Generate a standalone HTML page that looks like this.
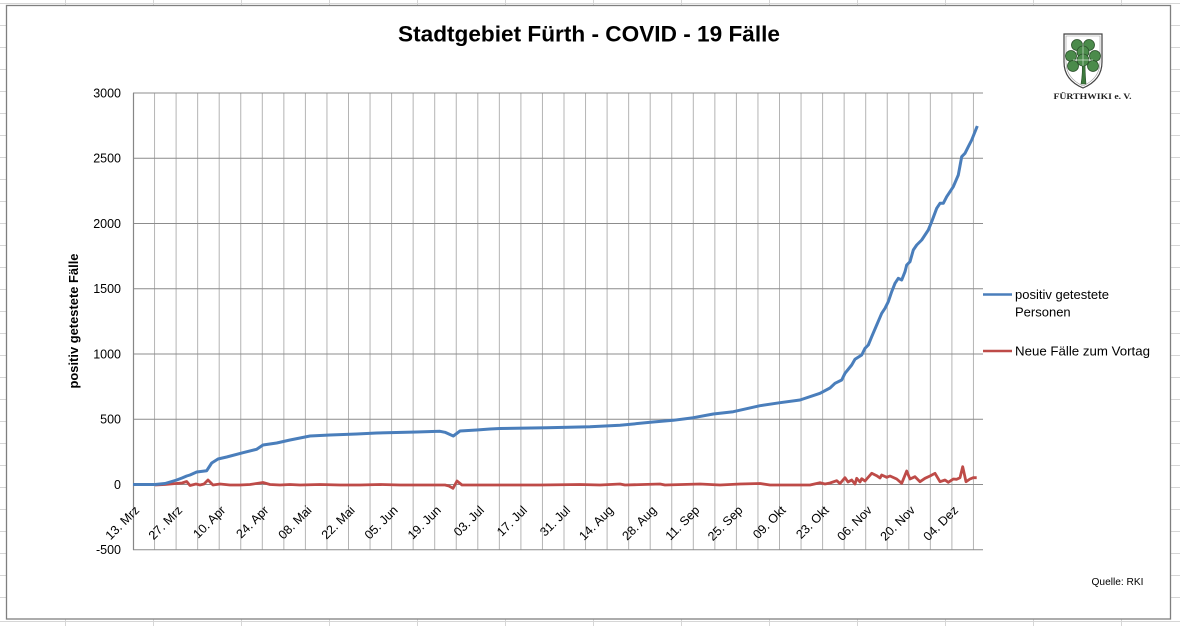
<!DOCTYPE html>
<html><head><meta charset="utf-8"><style>
html,body{margin:0;padding:0;background:#fff;}
svg{display:block;}
text{font-family:"Liberation Sans",sans-serif;}
</style></head><body>
<svg width="1180" height="626" viewBox="0 0 1180 626" xmlns="http://www.w3.org/2000/svg">
<!-- sheet grid -->
<g stroke="#d6d6d6" stroke-width="1">
<line x1="0" y1="3.5" x2="1180" y2="3.5"/><line x1="0" y1="25.5" x2="1180" y2="25.5"/><line x1="0" y1="47.5" x2="1180" y2="47.5"/><line x1="0" y1="69.5" x2="1180" y2="69.5"/><line x1="0" y1="91.5" x2="1180" y2="91.5"/><line x1="0" y1="113.5" x2="1180" y2="113.5"/><line x1="0" y1="135.5" x2="1180" y2="135.5"/><line x1="0" y1="157.5" x2="1180" y2="157.5"/><line x1="0" y1="179.5" x2="1180" y2="179.5"/><line x1="0" y1="201.5" x2="1180" y2="201.5"/><line x1="0" y1="223.5" x2="1180" y2="223.5"/><line x1="0" y1="245.5" x2="1180" y2="245.5"/><line x1="0" y1="267.5" x2="1180" y2="267.5"/><line x1="0" y1="289.5" x2="1180" y2="289.5"/><line x1="0" y1="311.5" x2="1180" y2="311.5"/><line x1="0" y1="333.5" x2="1180" y2="333.5"/><line x1="0" y1="355.5" x2="1180" y2="355.5"/><line x1="0" y1="377.5" x2="1180" y2="377.5"/><line x1="0" y1="399.5" x2="1180" y2="399.5"/><line x1="0" y1="421.5" x2="1180" y2="421.5"/><line x1="0" y1="443.5" x2="1180" y2="443.5"/><line x1="0" y1="465.5" x2="1180" y2="465.5"/><line x1="0" y1="487.5" x2="1180" y2="487.5"/><line x1="0" y1="509.5" x2="1180" y2="509.5"/><line x1="0" y1="531.5" x2="1180" y2="531.5"/><line x1="0" y1="553.5" x2="1180" y2="553.5"/><line x1="0" y1="575.5" x2="1180" y2="575.5"/><line x1="0" y1="597.5" x2="1180" y2="597.5"/><line x1="0" y1="621.5" x2="1180" y2="621.5"/>
<line x1="65.5" y1="0" x2="65.5" y2="626"/><line x1="153.5" y1="0" x2="153.5" y2="626"/><line x1="241.5" y1="0" x2="241.5" y2="626"/><line x1="329.5" y1="0" x2="329.5" y2="626"/><line x1="417.5" y1="0" x2="417.5" y2="626"/><line x1="505.5" y1="0" x2="505.5" y2="626"/><line x1="593.5" y1="0" x2="593.5" y2="626"/><line x1="681.5" y1="0" x2="681.5" y2="626"/><line x1="769.5" y1="0" x2="769.5" y2="626"/><line x1="857.5" y1="0" x2="857.5" y2="626"/><line x1="945.5" y1="0" x2="945.5" y2="626"/><line x1="1033.5" y1="0" x2="1033.5" y2="626"/><line x1="1121.5" y1="0" x2="1121.5" y2="626"/>
</g>
<!-- chart area -->
<rect x="6.5" y="5.5" width="1164" height="613.5" fill="#fff" stroke="#7f7f7f" stroke-width="1.3"/>

<!-- title -->
<text x="589" y="41.5" font-size="22" font-weight="bold" text-anchor="middle" textLength="382" lengthAdjust="spacingAndGlyphs" fill="#000">Stadtgebiet Fürth - COVID - 19 Fälle</text>

<!-- logo -->
<g>
<path d="M1064,34 H1102 V62 Q1102,80 1083,88 Q1064,80 1064,62 Z" fill="#fff" stroke="#444" stroke-width="1.2"/>
<path d="M1066,36 H1100 V62 Q1100,78 1083,86 Q1066,78 1066,62 Z" fill="none" stroke="#999" stroke-width="0.6"/>
<path d="M1082,62 Q1083,72 1081,84 L1086,84 Q1085,72 1085,62 Z" fill="#3d7a3d" stroke="#2a4f2a" stroke-width="0.6"/>
<g fill="#4b8b4b" stroke="#2a4f2a" stroke-width="0.8">
<circle cx="1077" cy="45" r="5.5"/><circle cx="1089" cy="45" r="5.5"/><circle cx="1083" cy="52" r="6"/>
<circle cx="1071" cy="56" r="5.5"/><circle cx="1073" cy="66" r="5.5"/>
<circle cx="1095" cy="56" r="5.5"/><circle cx="1093" cy="66" r="5.5"/>
<circle cx="1083" cy="60" r="6"/>
</g>
<line x1="1083" y1="44" x2="1083" y2="66" stroke="#cde0cd" stroke-width="0.7"/>
<line x1="1073" y1="60" x2="1093" y2="60" stroke="#cde0cd" stroke-width="0.7"/>
<text x="1092.5" y="99" font-family="Liberation Serif,serif" font-size="8" font-weight="bold" text-anchor="middle" fill="#222" textLength="78" lengthAdjust="spacingAndGlyphs" style="font-family:'Liberation Serif',serif">FÜRTHWIKI e. V.</text>
</g>

<!-- plot gridlines vertical -->
<g stroke="#b4b4b4" stroke-width="1">
<line x1="154.55" y1="93" x2="154.55" y2="550"/><line x1="176.1" y1="93" x2="176.1" y2="550"/><line x1="197.65" y1="93" x2="197.65" y2="550"/><line x1="219.2" y1="93" x2="219.2" y2="550"/><line x1="240.75" y1="93" x2="240.75" y2="550"/><line x1="262.3" y1="93" x2="262.3" y2="550"/><line x1="283.85" y1="93" x2="283.85" y2="550"/><line x1="305.4" y1="93" x2="305.4" y2="550"/><line x1="326.95" y1="93" x2="326.95" y2="550"/><line x1="348.5" y1="93" x2="348.5" y2="550"/><line x1="370.05" y1="93" x2="370.05" y2="550"/><line x1="391.6" y1="93" x2="391.6" y2="550"/><line x1="413.15" y1="93" x2="413.15" y2="550"/><line x1="434.7" y1="93" x2="434.7" y2="550"/><line x1="456.25" y1="93" x2="456.25" y2="550"/><line x1="477.8" y1="93" x2="477.8" y2="550"/><line x1="499.35" y1="93" x2="499.35" y2="550"/><line x1="520.9" y1="93" x2="520.9" y2="550"/><line x1="542.45" y1="93" x2="542.45" y2="550"/><line x1="564" y1="93" x2="564" y2="550"/><line x1="585.55" y1="93" x2="585.55" y2="550"/><line x1="607.1" y1="93" x2="607.1" y2="550"/><line x1="628.65" y1="93" x2="628.65" y2="550"/><line x1="650.2" y1="93" x2="650.2" y2="550"/><line x1="671.75" y1="93" x2="671.75" y2="550"/><line x1="693.3" y1="93" x2="693.3" y2="550"/><line x1="714.85" y1="93" x2="714.85" y2="550"/><line x1="736.4" y1="93" x2="736.4" y2="550"/><line x1="757.95" y1="93" x2="757.95" y2="550"/><line x1="779.5" y1="93" x2="779.5" y2="550"/><line x1="801.05" y1="93" x2="801.05" y2="550"/><line x1="822.6" y1="93" x2="822.6" y2="550"/><line x1="844.15" y1="93" x2="844.15" y2="550"/><line x1="865.7" y1="93" x2="865.7" y2="550"/><line x1="887.25" y1="93" x2="887.25" y2="550"/><line x1="908.8" y1="93" x2="908.8" y2="550"/><line x1="930.35" y1="93" x2="930.35" y2="550"/><line x1="951.9" y1="93" x2="951.9" y2="550"/><line x1="973.45" y1="93" x2="973.45" y2="550"/>
</g>
<!-- horizontal gridlines -->
<g stroke="#8c8c8c" stroke-width="1">
<line x1="133" y1="93" x2="983" y2="93"/><line x1="133" y1="158.25" x2="983" y2="158.25"/><line x1="133" y1="223.5" x2="983" y2="223.5"/><line x1="133" y1="288.75" x2="983" y2="288.75"/><line x1="133" y1="354" x2="983" y2="354"/><line x1="133" y1="419.25" x2="983" y2="419.25"/><line x1="133" y1="484.5" x2="983" y2="484.5"/><line x1="133" y1="549.75" x2="983" y2="549.75"/>
</g>
<line x1="133.5" y1="93" x2="133.5" y2="550" stroke="#868686" stroke-width="1.2"/>

<!-- y labels -->
<g font-size="12.5" text-anchor="end" fill="#000">
<text x="121" y="97.5">3000</text><text x="121" y="162.7">2500</text><text x="121" y="228">2000</text><text x="121" y="293.2">1500</text><text x="121" y="358.5">1000</text><text x="121" y="423.7">500</text><text x="121" y="489">0</text><text x="121" y="554.2">-500</text>
</g>
<!-- y title -->
<text transform="translate(78,321) rotate(-90)" font-size="12.5" font-weight="bold" text-anchor="middle" textLength="135" lengthAdjust="spacingAndGlyphs" fill="#000">positiv getestete Fälle</text>

<!-- x labels -->
<g font-size="12.5" text-anchor="end" fill="#000">
<text transform="translate(140,511) rotate(-45)">13. Mrz</text>
<text transform="translate(183.1,511) rotate(-45)">27. Mrz</text>
<text transform="translate(226.2,511) rotate(-45)">10. Apr</text>
<text transform="translate(269.3,511) rotate(-45)">24. Apr</text>
<text transform="translate(312.4,511) rotate(-45)">08. Mai</text>
<text transform="translate(355.5,511) rotate(-45)">22. Mai</text>
<text transform="translate(398.6,511) rotate(-45)">05. Jun</text>
<text transform="translate(441.7,511) rotate(-45)">19. Jun</text>
<text transform="translate(484.8,511) rotate(-45)">03. Jul</text>
<text transform="translate(527.9,511) rotate(-45)">17. Jul</text>
<text transform="translate(571,511) rotate(-45)">31. Jul</text>
<text transform="translate(614.1,511) rotate(-45)">14. Aug</text>
<text transform="translate(657.2,511) rotate(-45)">28. Aug</text>
<text transform="translate(700.3,511) rotate(-45)">11. Sep</text>
<text transform="translate(743.4,511) rotate(-45)">25. Sep</text>
<text transform="translate(786.5,511) rotate(-45)">09. Okt</text>
<text transform="translate(829.6,511) rotate(-45)">23. Okt</text>
<text transform="translate(872.7,511) rotate(-45)">06. Nov</text>
<text transform="translate(915.8,511) rotate(-45)">20. Nov</text>
<text transform="translate(958.9,511) rotate(-45)">04. Dez</text>
</g>

<!-- red series -->
<polyline fill="none" stroke="#be4b48" stroke-width="2.8" stroke-linejoin="round" points="155,485 165,484.5 176,483.5 182,483 186.7,481.5 190,485.5 196,484 200,485 204,484 208,480 213,485 220,484 230,485 240,485 250,484.5 263,482.5 270,484.5 280,485 290,484.5 300,485 320,484.5 340,485 360,485 380,484.5 400,485 420,485 445,485 449,486 453,488.3 457,481 462,485 470,485 500,485 540,485 580,484.5 600,485 620,484 625,485 660,484 665,485 700,484 720,485 740,484 760,483.5 770,485 790,485 810,485 820,482.7 825,484 830,483 836.7,480.7 840,483.5 845,477.7 848,482 851.7,480 855,484 856.7,478.3 860,482 861.7,478.7 865,481 866.7,479 871.7,473.3 876.7,475.7 880,478 881.7,475 886.7,477.3 890,476 896.7,479 901.7,483.3 906.7,471 910,479 915,476.7 920,481.7 925,478.3 930,476 935,473.3 940,481.7 945,480 948.3,482.3 953.3,479 956.7,479.3 960,477.7 962.7,466.7 966,481.7 970,479 973.3,477.7 976.7,477.7"/>

<!-- blue series -->
<polyline fill="none" stroke="#4a7ebb" stroke-width="3" stroke-linejoin="round" points="133,484.5 155,484.5 165,483.5 176.7,480 182,478 186.7,476 190,475 196.7,472 206.7,470.7 211.7,463 218,459 226.7,457 243,452.7 256.7,449.3 263,445 276.7,443 290,440 310,436 330,435 356.7,434 376.7,433 416.7,432 440,431.3 445,432.3 453.3,436 460,431 476.7,430 490,429 500,428.5 546.7,427.7 590,426.7 620,425.3 653,422 673.3,420.3 693.3,417.7 713.3,414 733.3,411.7 760,405.7 780,402.7 800,400 820,393.3 830,388 835,383.3 841.7,380 845,373.3 851.7,365 855,359.3 861.7,355 865,348.3 868.3,345 871.7,336.7 876.7,325 881.7,313.3 885,308.3 888.3,301.7 891.7,291.7 895,283.3 898.3,278.3 901.7,280 905,271.7 906.7,265 910,261.7 913.3,250 916.7,245 921.7,240 925,235 928.3,230 931.7,221.7 936.7,208.3 940,203.3 943.3,203.3 946.7,196.7 950,191.7 953.3,186.7 958.3,175 961.7,156.7 965,153.3 968.3,146.7 971.7,140 977.3,126"/>

<!-- legend -->
<line x1="983" y1="294.5" x2="1012" y2="294.5" stroke="#4a7ebb" stroke-width="2.5"/>
<text x="1015" y="299" font-size="13" fill="#000">positiv getestete</text>
<text x="1015" y="316.5" font-size="13" fill="#000">Personen</text>
<line x1="983" y1="351" x2="1012" y2="351" stroke="#be4b48" stroke-width="2.5"/>
<text x="1015" y="355.5" font-size="13" fill="#000" textLength="135" lengthAdjust="spacingAndGlyphs">Neue Fälle zum Vortag</text>

<!-- source -->
<text x="1091.5" y="585" font-size="10" fill="#000" textLength="52" lengthAdjust="spacingAndGlyphs">Quelle: RKI</text>
</svg>
</body></html>
